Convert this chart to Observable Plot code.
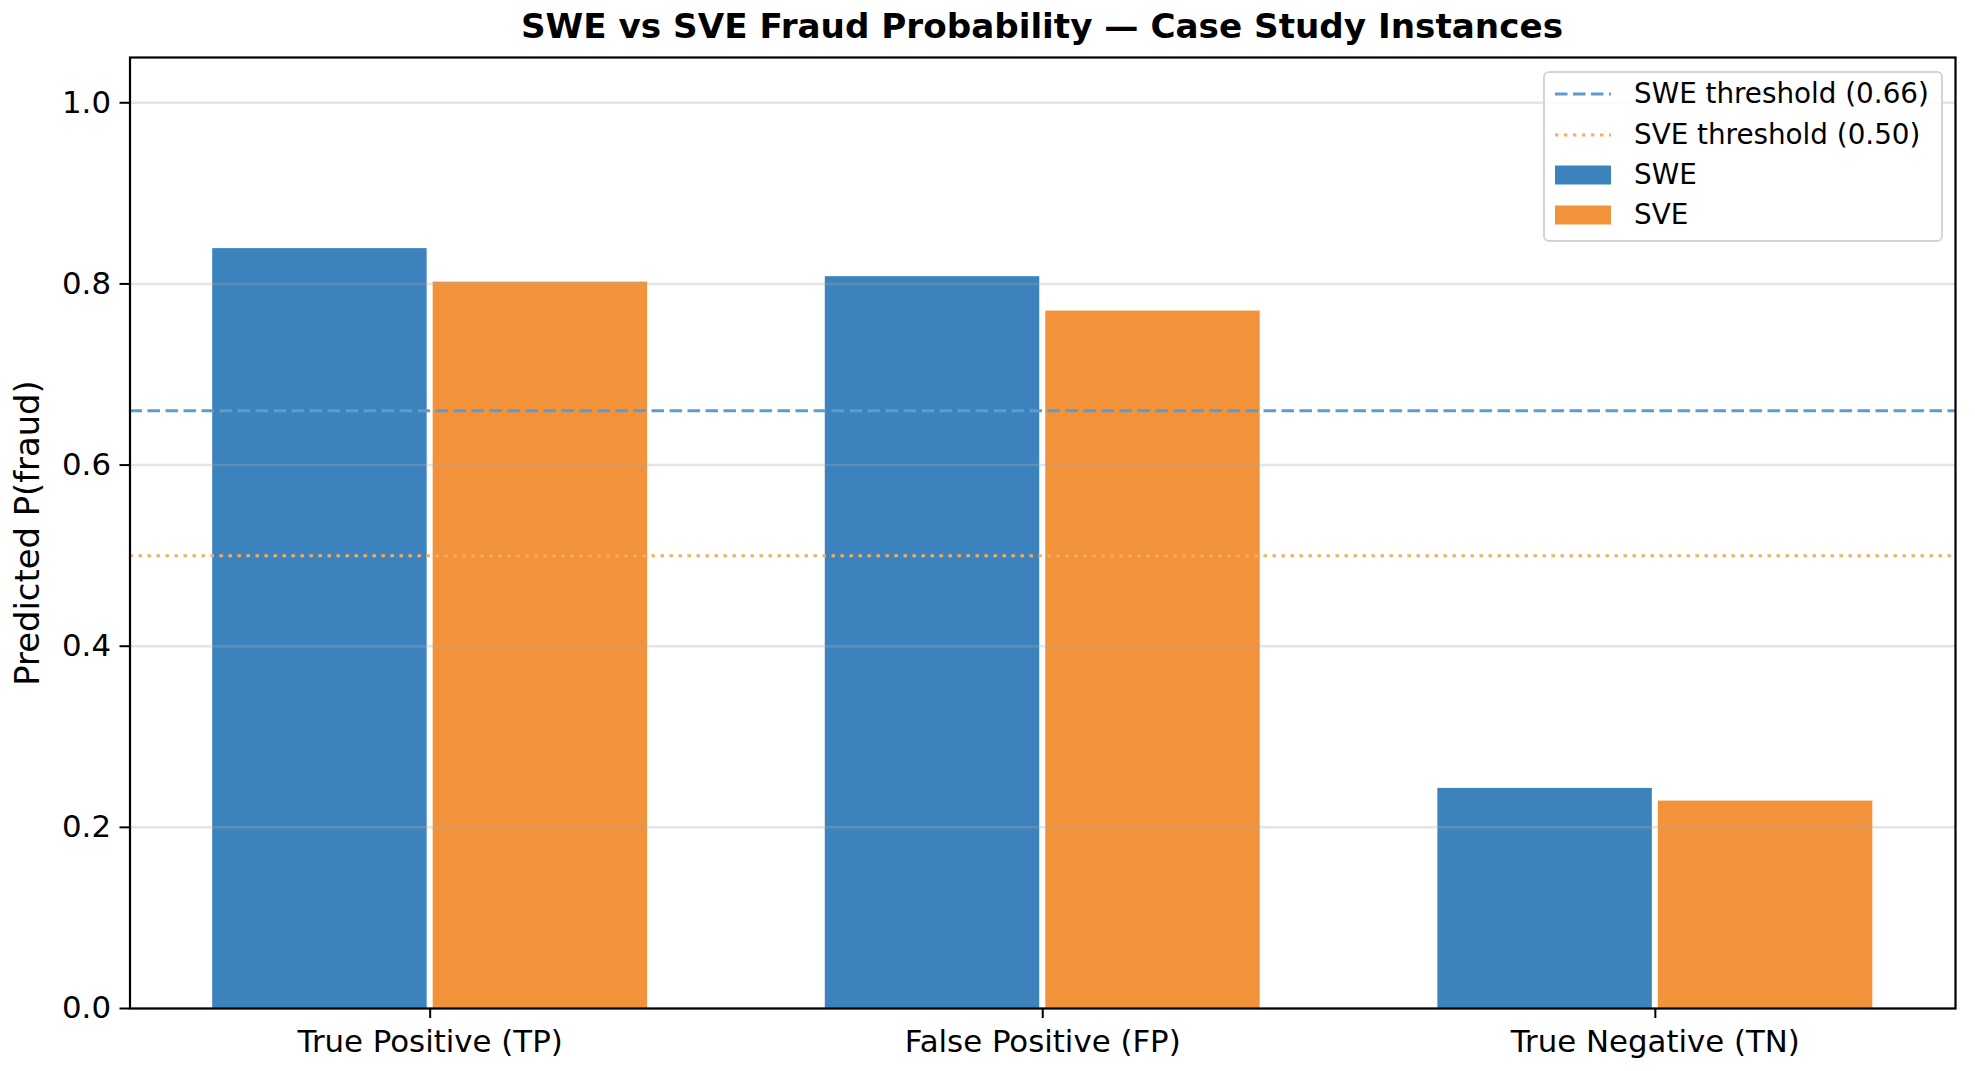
<!DOCTYPE html>
<html>
<head>
<meta charset="utf-8">
<script src="https://cdn.jsdelivr.net/npm/d3@7"></script>
<script src="https://cdn.jsdelivr.net/npm/@observablehq/plot@0.6"></script>
<style>
  body { margin: 0; background: #fff; font-family: "DejaVu Sans", sans-serif; }
  #wrap { position: relative; width: 1975px; height: 1071px; overflow: hidden; }
  #title { position: absolute; left: 129px; width: 1826px; top: 9px; text-align: center;
           font-weight: bold; font-size: 34.2px; line-height: 34px; color: #000; white-space: nowrap; }
  #chart { position: absolute; left: 0; top: 55px; }
  #legend { position: absolute; left: 1543px; top: 71px; width: 396px; height: 167px;
            border: 2px solid #d4d4d4; border-radius: 6px; background: rgba(255,255,255,0.85); }
  .row { position: absolute; left: 0; height: 40px; width: 100%; }
  .row svg { position: absolute; left: 10px; top: 0; }
  .row span { position: absolute; left: 89px; top: 0; line-height: 40px; font-size: 27.8px; color: #000; white-space: nowrap; }
</style>
</head>
<body>
<div id="wrap">
  <div id="title"></div>
  <div id="chart"></div>
  <div id="legend"></div>
</div>
<script>
// ---- data ----
const titleText = "SWE vs SVE Fraud Probability — Case Study Instances";
const yLabel = "Predicted P(fraud)";
const categories = ["True Positive (TP)", "False Positive (FP)", "True Negative (TN)"];
const sweValues = [0.839, 0.808, 0.243];
const sveValues = [0.802, 0.770, 0.229];
const sweThreshold = 0.66;
const sveThreshold = 0.50;
const yTicks = [0.0, 0.2, 0.4, 0.6, 0.8, 1.0];
const seriesNames = ["SWE", "SVE"];
const thresholdLabels = ["SWE threshold (0.66)", "SVE threshold (0.50)"];

// ---- style ----
const sweColor = "#3c83bd";
const sveColor = "#f2933b";
const sweLine = "#5f9cce";
const sveLine = "#f9ab64";
const barWidth = 0.355;

const sweRows = categories.map((c, i) => ({i, v: sweValues[i]}));
const sveRows = categories.map((c, i) => ({i, v: sveValues[i]}));

document.getElementById("title").textContent = titleText;

const chart = Plot.plot({
  width: 1975,
  height: 1016,
  marginLeft: 129.5,
  marginRight: 20,
  marginTop: 2,
  marginBottom: 63,
  style: {fontFamily: "DejaVu Sans, sans-serif", color: "#000", background: "#fff"},
  x: {domain: [-0.49, 2.49]},
  y: {domain: [0, 1.05]},
  marks: [
    Plot.rect(sweRows, {x1: d => d.i - barWidth, x2: d => d.i, y1: 0, y2: "v", fill: sweColor, insetRight: 3}),
    Plot.rect(sveRows, {x1: d => d.i, x2: d => d.i + barWidth, y1: 0, y2: "v", fill: sveColor, insetLeft: 3}),
    Plot.gridY(yTicks, {stroke: "#a8a8a8", strokeOpacity: 0.3, strokeWidth: 2.5}),
    Plot.ruleY([sweThreshold], {stroke: sweLine, strokeWidth: 3, strokeDasharray: "12.5,5.5"}),
    Plot.ruleY([sveThreshold], {stroke: sveLine, strokeWidth: 3, strokeDasharray: "3.4,5.6"}),
    Plot.axisY(yTicks, {tickFormat: d3.format(".1f"), tickSize: 10, tickPadding: 9, fontSize: 30.8, label: null, strokeWidth: 2}),
    Plot.axisX([0, 1, 2], {tickFormat: i => categories[i], tickSize: 10, tickPadding: 12, fontSize: 30.8, label: null, strokeWidth: 2}),
    Plot.text([yLabel], {frameAnchor: "left", textAnchor: "middle", lineAnchor: "middle", rotate: -90, dx: -102, fontSize: 33.8, fill: "#000"}),
    Plot.frame({stroke: "#000", strokeWidth: 2.2})
  ]
});
document.getElementById("chart").appendChild(chart);

// ---- legend ----
const legend = d3.select("#legend");
const entries = [
  {label: thresholdLabels[0], type: "line", color: sweLine, dash: "12.5,5.5"},
  {label: thresholdLabels[1], type: "line", color: sveLine, dash: "3.4,5.6"},
  {label: seriesNames[0], type: "rect", color: sweColor},
  {label: seriesNames[1], type: "rect", color: sveColor}
];
const rowCenters = [21, 62, 102, 142];
entries.forEach((e, k) => {
  const row = legend.append("div").attr("class", "row").style("top", (rowCenters[k] - 20) + "px");
  const svg = row.append("svg").attr("width", 58).attr("height", 40);
  if (e.type === "line") {
    svg.append("line").attr("x1", 0).attr("x2", 56).attr("y1", 20).attr("y2", 20)
      .attr("stroke", e.color).attr("stroke-width", 3).attr("stroke-dasharray", e.dash);
  } else {
    svg.append("rect").attr("x", 0).attr("y", 10.5).attr("width", 56).attr("height", 19).attr("fill", e.color);
  }
  row.append("span").text(e.label);
});
</script>
</body>
</html>
